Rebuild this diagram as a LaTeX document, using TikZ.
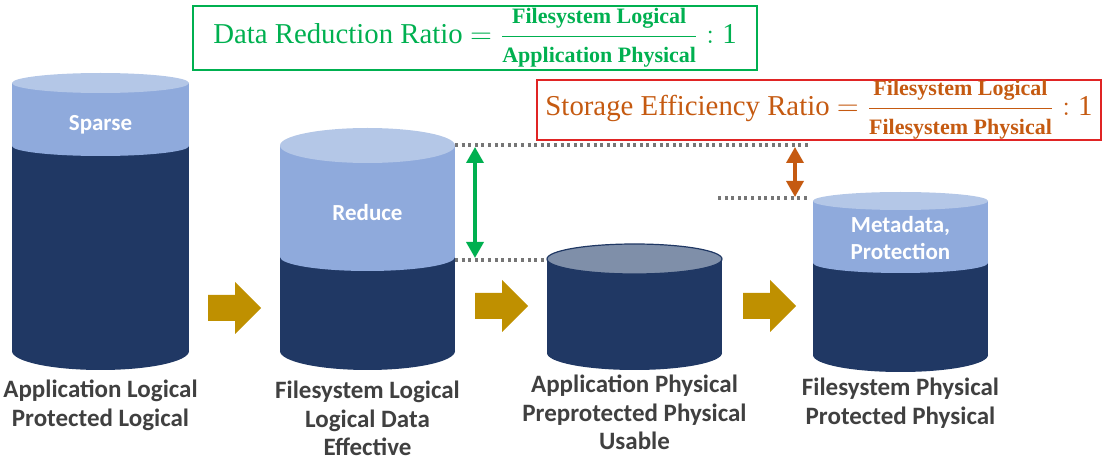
\documentclass[tikz,border=0pt]{standalone}
\usepackage{fontspec}
\setmainfont{Liberation Serif}
\newfontfamily\labelfont{Carlito}
\usetikzlibrary{arrows.meta}

\definecolor{navy}{HTML}{203864}
\definecolor{band}{HTML}{8FAADC}
\definecolor{lid}{HTML}{B4C7E7}
\definecolor{lidgray}{HTML}{7F8FA9}
\definecolor{gold}{HTML}{BF9000}
\definecolor{drgreen}{HTML}{00B050}
\definecolor{seorange}{HTML}{C55A11}
\definecolor{sered}{HTML}{E02424}
\definecolor{labelgray}{HTML}{404040}
\definecolor{dotgray}{HTML}{767676}

\newcommand\ratiopart[1]{\mbox{\bfseries\fontsize{11}{13}\selectfont #1}}

\begin{document}
\begin{tikzpicture} [
    x=0.5pt, y=-0.5pt,
    caption/.style={anchor=north, inner sep=0pt, align=center, text=labelgray, font=\labelfont\bfseries\fontsize{12.5}{14.2}\selectfont},
    inlabel/.style={inner sep=0pt, align=center, text=white, font=\labelfont\bfseries\fontsize{11.5}{13.5}\selectfont},
    flow/.style={fill=gold},
    ratiobox/.style={rectangle, draw, line width=0.9pt, inner sep=0pt, minimum width=282pt},
    guide/.style={dotgray, line width=1.7pt, dash pattern=on 1.5pt off 1.8pt},
    delta/.style={{Triangle[width=8.5pt,length=8pt]}-{Triangle[width=8.5pt,length=8pt]}, line width=1.7pt}
]
    \useasboundingbox (0,0) rectangle (1116,460);

    % 圆柱 1
    \fill[navy] (100.5,351) ellipse[x radius=88.5, y radius=19];
    \fill[navy] (12,146) rectangle (189,351);
    \fill[band] (100.5,146) ellipse[x radius=88.5, y radius=10];
    \fill[band] (12,83) rectangle (189,146);
    \fill[lid] (100.5,83) ellipse[x radius=88.5, y radius=10];
    \node[inlabel] (sparse) at (100.5,125) {Sparse};

    % 圆柱 2
    \fill[navy] (367.5,351) ellipse[x radius=87.5, y radius=19];
    \fill[navy] (280,257) rectangle (455,351);
    \fill[band] (367.5,257) ellipse[x radius=87.5, y radius=14];
    \fill[band] (280,145.5) rectangle (455,257);
    \fill[lid] (367.5,145.5) ellipse[x radius=87.5, y radius=17.5];
    \node[inlabel] (reduce) at (367.5,213) {Reduce};

    % 圆柱 3
    \fill[navy] (634.5,353) ellipse[x radius=87.5, y radius=17];
    \fill[navy] (547,259) rectangle (722,353);
    \filldraw[fill=lidgray, draw=navy, line width=0.6pt] (634.5,259) ellipse[x radius=87.5, y radius=15];

    % 圆柱 4
    \fill[navy] (900.5,355) ellipse[x radius=87.5, y radius=17];
    \fill[navy] (813,263) rectangle (988,355);
    \fill[band] (900.5,263) ellipse[x radius=87.5, y radius=10];
    \fill[band] (813,201) rectangle (988,263);
    \fill[lid] (900.5,201) ellipse[x radius=87.5, y radius=9];
    \node[inlabel] (meta) at (900.5,238.5) {Metadata,\\Protection};

    % 流程箭头
    \coordinate (flowA) at (208,308);
    \coordinate (flowB) at (475,306);
    \coordinate (flowC) at (743,306);
    \fill[flow] (flowA) ++(0,-13) -- ++(27,0) -- ++(0,-13) -- ++(26,26) -- ++(-26,26) -- ++(0,-13) -- ++(-27,0) -- cycle;
    \fill[flow] (flowB) ++(0,-13) -- ++(27,0) -- ++(0,-13) -- ++(26,26) -- ++(-26,26) -- ++(0,-13) -- ++(-27,0) -- cycle;
    \fill[flow] (flowC) ++(0,-13) -- ++(27,0) -- ++(0,-13) -- ++(26,26) -- ++(-26,26) -- ++(0,-13) -- ++(-27,0) -- cycle;

    % 下方标签
    \node[caption] (appl) at (100.5,380) {Application Logical\\Protected Logical};
    \node[caption] (fsl) at (367.5,381) {Filesystem Logical\\Logical Data\\Effective};
    \node[caption] (appp) at (634.5,375) {Application Physical\\Preprotected Physical\\Usable};
    \node[caption] (fsp) at (900.5,378) {Filesystem Physical\\Protected Physical};

    % 公式框
    \node[ratiobox, draw=drgreen, text=drgreen, minimum height=32pt] (drr) at (475,38)
        {\Large Data Reduction Ratio $\displaystyle = \frac{\ratiopart{Filesystem Logical}}{\ratiopart{Application Physical}} : \mbox{1}$};
    \node[ratiobox, draw=sered, text=seorange, minimum height=30pt] (ser) at (819,110)
        {\Large Storage Efficiency Ratio $\displaystyle = \frac{\ratiopart{Filesystem Logical}}{\ratiopart{Filesystem Physical}} : \mbox{1}$};

    % 虚线与双向箭头
    \coordinate (topL) at (455,145);
    \coordinate (topR) at (808,145);
    \coordinate (midL) at (455,260);
    \coordinate (midR) at (547,260);
    \coordinate (lowL) at (718,198);
    \coordinate (lowR) at (808,198);
    \coordinate (gTop) at (475,147);
    \coordinate (gBot) at (475,258);
    \coordinate (oTop) at (795,147);
    \coordinate (oBot) at (795,197);
    \draw[guide] (topL) -- (topR);
    \draw[guide] (midL) -- (midR);
    \draw[guide] (lowL) -- (lowR);
    \draw[delta, drgreen] (gTop) -- (gBot);
    \draw[delta, seorange] (oTop) -- (oBot);
\end{tikzpicture}
\end{document}
